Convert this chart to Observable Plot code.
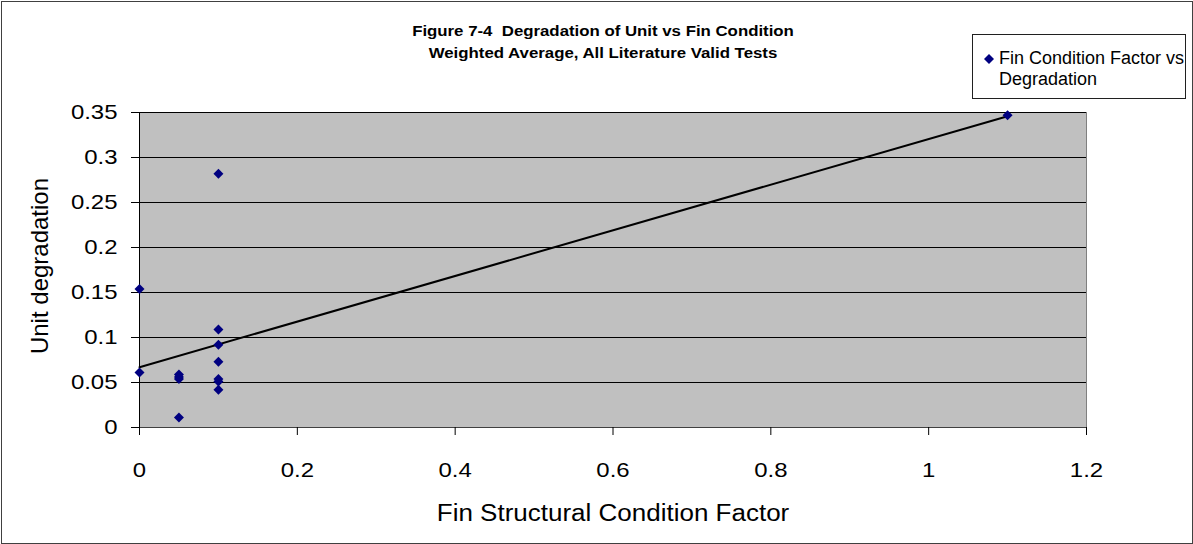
<!DOCTYPE html>
<html>
<head>
<meta charset="utf-8">
<script src="https://cdn.jsdelivr.net/npm/d3@7"></script>
<script src="https://cdn.jsdelivr.net/npm/@observablehq/plot@0.6"></script>
<style>
  html, body { margin: 0; padding: 0; background: #fff; }
  #chart { position: relative; width: 1193px; height: 544px; font-family: Arial, "Liberation Sans", sans-serif; }
  #border { position: absolute; left: 1px; top: 1px; width: 1190px; height: 541px; border: 1px solid #404040; pointer-events: none; }
  #title { position: absolute; left: 403px; width: 400px; top: 20px; text-align: center; font-weight: bold; font-size: 14px; line-height: 22px; color: #000; transform: scaleX(1.2); transform-origin: 200px 0; }
  #legend { position: absolute; left: 972px; top: 34px; width: 214px; height: 65px; border: 1px solid #202020; background: #fff; box-sizing: border-box; font-size: 18px; line-height: 21px; color: #000; }
  #legend .swatch { position: absolute; left: 10px; top: 18px; }
  #legend .label { position: absolute; left: 26px; top: 13px; }
</style>
</head>
<body>
<div id="chart">
  <div id="title">Figure 7-4&nbsp; Degradation of Unit vs Fin Condition<br>Weighted Average, All Literature Valid Tests</div>
  <div id="legend">
    <svg class="swatch" width="12" height="12"><path d="M6,1L11,6L6,11L1,6Z" fill="#000080"></path></svg>
    <div class="label">Fin Condition Factor vs<br>Degradation</div>
  </div>
  <div id="border"></div>
</div>
<script>
// Fin structural condition factor (x) and unit degradation (y) for each valid test
const finFactor   = [0, 0, 0.05, 0.05, 0.05, 0.05, 0.1, 0.1, 0.1, 0.1, 0.1, 0.1, 0.1, 1.1];
const degradation = [0.154, 0.061, 0.059, 0.056, 0.054, 0.011, 0.282, 0.109, 0.092, 0.073, 0.054, 0.051, 0.042, 0.347];

const xTicks = [0, 0.2, 0.4, 0.6, 0.8, 1, 1.2];
const yTicks = [0, 0.05, 0.1, 0.15, 0.2, 0.25, 0.3, 0.35];

const xTitle = "Fin Structural Condition Factor";
const yTitle = "Unit degradation";

const tests = finFactor.map((f, i) => ({factor: f, degradation: degradation[i]}));

const chart = Plot.plot({
  width: 1193,
  height: 544,
  marginLeft: 139,
  marginRight: 107,
  marginTop: 112,
  marginBottom: 117,
  style: {fontFamily: 'Arial, "Liberation Sans", sans-serif', background: "transparent", color: "#000"},
  x: {domain: [0, 1.2]},
  y: {domain: [0, 0.35]},
  marks: [
    Plot.frame({fill: "#C0C0C0", stroke: "#808080"}),
    Plot.ruleY(yTicks.filter(d => d > 0), {stroke: "#000", strokeWidth: 1}),
    Plot.ruleY([0], {stroke: "#404040"}),
    Plot.ruleX([0], {stroke: "#000"}),
    Plot.axisX({ticks: xTicks, tickFormat: d => String(d), tickSize: 8, tickPadding: 27, fontSize: 21, label: null}),
    Plot.axisY({ticks: yTicks, tickFormat: d => String(d), tickSize: 8, tickPadding: 14, fontSize: 21, label: null}),
    Plot.text([xTitle], {text: d => d, frameAnchor: "bottom", dy: 93, fontSize: 23, textAnchor: "middle"}),
    Plot.text([yTitle], {text: d => d, frameAnchor: "left", dx: -99, dy: -4, rotate: -90, fontSize: 24, textAnchor: "middle"}),
    Plot.linearRegressionY(tests, {x: "factor", y: "degradation", stroke: "#000", strokeWidth: 2, ci: 0}),
    Plot.dot(tests, {x: "factor", y: "degradation", symbol: "diamond2", r: 4.5, fill: "#000080", stroke: "none"})
  ]
});

document.getElementById("chart").prepend(chart);

// Widen the axis lettering slightly, as in the original chart style
function widen(el, k) {
  const w = el.getComputedTextLength();
  el.setAttribute("textLength", (w * k).toFixed(1));
  el.setAttribute("lengthAdjust", "spacingAndGlyphs");
}
chart.querySelectorAll('g[aria-label="x-axis tick label"] text, g[aria-label="y-axis tick label"] text')
  .forEach(t => widen(t, 1.14));
chart.querySelectorAll('g[aria-label="text"] text')
  .forEach(t => { if (t.textContent === xTitle) widen(t, 1.13); });
</script>
</body>
</html>
